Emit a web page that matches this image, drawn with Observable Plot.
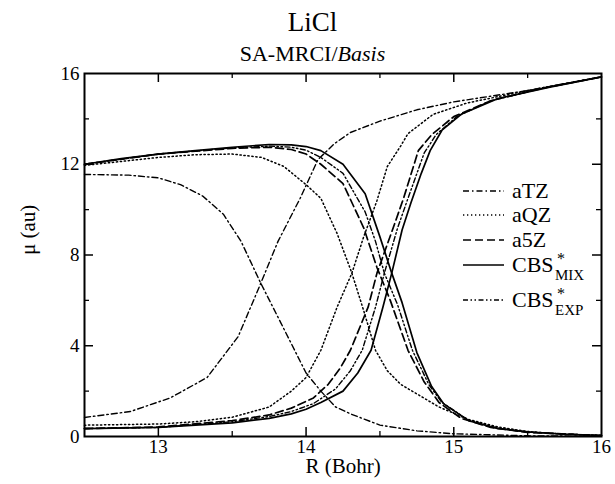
<!DOCTYPE html>
<html><head><meta charset="utf-8">
<script src="https://cdn.jsdelivr.net/npm/d3@7"></script>
<script src="https://cdn.jsdelivr.net/npm/@observablehq/plot@0.6"></script>
<style>
html,body{margin:0;padding:0;background:#fff;}
#wrap{position:relative;width:615px;height:484px;font-family:"Liberation Serif","Times New Roman",serif;color:#000;}
#wrap svg{position:absolute;left:0;top:0;}
#wrap svg text{font-family:"Liberation Serif","Times New Roman",serif !important;}
.ttl{position:absolute;left:0;width:615px;text-align:center;white-space:nowrap;font-family:"Liberation Serif","Times New Roman",serif;}
</style>
</head><body>
<div id="wrap">
  <div class="ttl" id="t1" style="top:7px;left:5px;font-size:27px;line-height:30px;">LiCl</div>
  <div class="ttl" id="t2" style="top:42px;left:5px;font-size:22px;line-height:24px;">SA-MRCI/<i>Basis</i></div>
</div>
<script>
// ---------- data (R in Bohr, mu in au) ----------
const aTZ_A_R  = [12.5, 12.8, 13.0, 13.15, 13.3, 13.44, 13.56, 13.69, 13.83, 14.0, 14.1, 14.2, 14.3, 14.5, 14.75, 15.0, 15.5, 16.0];
const aTZ_A_mu = [11.55, 11.52, 11.4, 11.1, 10.6, 9.8, 8.6, 6.8, 5.0, 2.8, 2.0, 1.3, 1.0, 0.5, 0.25, 0.12, 0.03, 0.01];
const aTZ_B_R  = [12.5, 12.81, 13.08, 13.33, 13.54, 13.69, 13.81, 13.96, 14.08, 14.19, 14.3, 14.5, 14.75, 15.0, 15.25, 15.5, 16.0];
const aTZ_B_mu = [0.84, 1.1, 1.7, 2.6, 4.4, 6.7, 8.6, 10.5, 12.2, 12.9, 13.4, 13.9, 14.4, 14.75, 15.0, 15.25, 15.85];

const aQZ_A_R  = [12.5, 13.0, 13.25, 13.5, 13.7, 13.85, 14.0, 14.1, 14.21, 14.31, 14.39, 14.47, 14.55, 14.64, 14.9, 15.1, 15.3, 15.5, 15.75, 16.0];
const aQZ_A_mu = [11.95, 12.3, 12.42, 12.45, 12.3, 11.9, 11.1, 10.5, 8.95, 7.2, 5.55, 3.8, 2.9, 2.3, 1.3, 0.75, 0.42, 0.22, 0.1, 0.04];
const aQZ_B_R  = [12.5, 13.0, 13.25, 13.5, 13.75, 13.9, 14.0, 14.1, 14.21, 14.31, 14.39, 14.48, 14.55, 14.64, 14.69, 14.86, 15.09, 15.5, 16.0];
const aQZ_B_mu = [0.5, 0.55, 0.65, 0.85, 1.3, 2.0, 2.6, 3.8, 5.7, 7.2, 8.8, 10.4, 11.9, 12.8, 13.35, 14.2, 14.7, 15.25, 15.85];

const a5Z_A_R  = [12.5, 13.0, 13.5, 13.75, 13.9, 14.0, 14.1, 14.25, 14.39, 14.48, 14.57, 14.69, 14.8, 14.9, 15.05, 15.25, 15.5, 16.0];
const a5Z_A_mu = [12.0, 12.45, 12.7, 12.75, 12.65, 12.45, 12.0, 11.15, 9.2, 7.45, 6.0, 3.8, 2.4, 1.5, 0.8, 0.4, 0.18, 0.04];
const a5Z_B_R  = [12.5, 13.0, 13.5, 13.75, 13.9, 14.05, 14.15, 14.23, 14.3, 14.42, 14.48, 14.59, 14.66, 14.76, 14.85, 15.0, 15.25, 15.6, 16.0];
const a5Z_B_mu = [0.35, 0.42, 0.7, 0.95, 1.25, 1.7, 2.3, 3.0, 3.8, 5.7, 7.2, 9.2, 10.5, 12.6, 13.3, 14.1, 14.8, 15.35, 15.85];

const mix_A_R  = [12.5, 12.75, 13.0, 13.25, 13.5, 13.75, 13.9, 14.0, 14.1, 14.25, 14.4, 14.5, 14.58, 14.65, 14.75, 14.85, 14.93, 15.1, 15.3, 15.5, 15.75, 16.0];
const mix_A_mu = [12.0, 12.25, 12.45, 12.6, 12.75, 12.87, 12.85, 12.78, 12.6, 12.0, 10.7, 8.8, 7.2, 5.9, 3.7, 2.2, 1.45, 0.7, 0.35, 0.2, 0.1, 0.05];
const mix_B_R  = [12.5, 13.0, 13.5, 13.75, 13.9, 14.0, 14.1, 14.25, 14.35, 14.44, 14.52, 14.58, 14.65, 14.71, 14.78, 14.84, 14.92, 15.05, 15.3, 15.65, 16.0];
const mix_B_mu = [0.35, 0.4, 0.6, 0.8, 1.0, 1.2, 1.5, 2.0, 2.8, 3.8, 5.7, 7.2, 9.1, 10.3, 11.6, 12.6, 13.5, 14.2, 14.9, 15.4, 15.85];

const exp_A_R  = [12.5, 13.0, 13.5, 13.75, 13.9, 14.0, 14.1, 14.25, 14.4, 14.47, 14.53, 14.62, 14.72, 14.83, 14.92, 15.1, 15.3, 15.5, 16.0];
const exp_A_mu = [12.0, 12.45, 12.72, 12.8, 12.75, 12.62, 12.3, 11.6, 9.9, 8.6, 7.2, 5.8, 3.8, 2.3, 1.5, 0.72, 0.37, 0.19, 0.04];
const exp_B_R  = [12.5, 13.0, 13.5, 13.75, 13.9, 14.05, 14.2, 14.3, 14.38, 14.47, 14.53, 14.62, 14.69, 14.8, 14.88, 15.02, 15.25, 15.6, 16.0];
const exp_B_mu = [0.35, 0.4, 0.65, 0.88, 1.1, 1.45, 2.1, 2.9, 3.8, 5.7, 7.2, 9.2, 10.5, 12.5, 13.3, 14.1, 14.8, 15.35, 15.85];

const methods = ["aTZ", "aQZ", "a5Z", "CBS*MIX", "CBS*EXP"];
const xMajor = [13, 14, 15];
const xMinor = [13.5, 14.5, 15.5];
const xLabels = [13, 14, 15, 16];
const yMajor = [4, 8, 12];
const yMinor = [2, 6, 10, 14];
const yLabels = [0, 4, 8, 12, 16];

// ---------- styles ----------
const dash = {"aTZ": "6,3,1.5,3", "aQZ": "1.3,2.7", "a5Z": "8,4", "CBS*MIX": null, "CBS*EXP": "5,2.5,1.5,2.5,1.5,2.5"};
const sw = {"aTZ": 1.4, "aQZ": 1.5, "a5Z": 1.7, "CBS*MIX": 1.7, "CBS*EXP": 1.4};
const FONT = "'Liberation Serif', 'Times New Roman', serif";

function rows(method, branch, R, mu) { return R.map((r, i) => ({R: r, mu: mu[i], method, branch})); }
const table = [
  ...rows("aTZ", "A", aTZ_A_R, aTZ_A_mu), ...rows("aTZ", "B", aTZ_B_R, aTZ_B_mu),
  ...rows("aQZ", "A", aQZ_A_R, aQZ_A_mu), ...rows("aQZ", "B", aQZ_B_R, aQZ_B_mu),
  ...rows("a5Z", "A", a5Z_A_R, a5Z_A_mu), ...rows("a5Z", "B", a5Z_B_R, a5Z_B_mu),
  ...rows("CBS*EXP", "A", exp_A_R, exp_A_mu), ...rows("CBS*EXP", "B", exp_B_R, exp_B_mu),
  ...rows("CBS*MIX", "A", mix_A_R, mix_A_mu), ...rows("CBS*MIX", "B", mix_B_R, mix_B_mu)
];

const W = 615, H = 484, mt = 73, mb = 48, ml = 84, mr = 14;
const iH = H - mt - mb, iW = W - ml - mr;
const MAJ = 9, MIN = 5;

const lineMarks = methods.map(m => Plot.line(table.filter(d => d.method === m), {
  x: "R", y: "mu", z: "branch", stroke: "black", strokeWidth: sw[m],
  strokeDasharray: dash[m], strokeLinejoin: "round"
}));

const chart = Plot.plot({
  width: W, height: H, marginTop: mt, marginBottom: mb, marginLeft: ml, marginRight: mr,
  x: {domain: [12.5, 16]},
  y: {domain: [0, 16]},
  style: {fontFamily: FONT, fontSize: "20px", background: "transparent", color: "black"},
  marks: [
    ...lineMarks,
    // inward ticks on all four sides
    Plot.tickX(xMajor, {x: d => d, insetTop: iH - MAJ, strokeWidth: 1.5}),
    Plot.tickX(xMajor, {x: d => d, insetBottom: iH - MAJ, strokeWidth: 1.5}),
    Plot.tickX(xMinor, {x: d => d, insetTop: iH - MIN, strokeWidth: 1.3}),
    Plot.tickX(xMinor, {x: d => d, insetBottom: iH - MIN, strokeWidth: 1.3}),
    Plot.tickY(yMajor, {y: d => d, insetRight: iW - MAJ, strokeWidth: 1.5}),
    Plot.tickY(yMajor, {y: d => d, insetLeft: iW - MAJ, strokeWidth: 1.5}),
    Plot.tickY(yMinor, {y: d => d, insetRight: iW - MIN, strokeWidth: 1.3}),
    Plot.tickY(yMinor, {y: d => d, insetLeft: iW - MIN, strokeWidth: 1.3}),
    Plot.frame({stroke: "black", strokeWidth: 2}),
    Plot.axisX(xLabels, {tickSize: 0, tickPadding: 3, label: null, fontSize: 19, tickFormat: d => String(d)}),
    Plot.axisY(yLabels, {tickSize: 0, tickPadding: 5, label: null, fontSize: 19, tickFormat: d => String(d)}),
    Plot.text(["R (Bohr)"], {frameAnchor: "bottom", dy: 36, fontSize: 21}),
    Plot.text(["\u03bc (au)"], {frameAnchor: "left", dx: -56, rotate: -90, fontSize: 21})
  ]
});
document.getElementById("wrap").prepend(chart);

// ---------- legend ----------
const legRows = [
  {m: "aTZ", y: 191, main: "aTZ", sup: null, sub: null},
  {m: "aQZ", y: 215, main: "aQZ", sup: null, sub: null},
  {m: "a5Z", y: 240, main: "a5Z", sup: null, sub: null},
  {m: "CBS*MIX", y: 265, main: "CBS", sup: "*", sub: "MIX"},
  {m: "CBS*EXP", y: 300, main: "CBS", sup: "*", sub: "EXP"}
];
const leg = d3.select("#wrap").append("svg").attr("width", W).attr("height", H)
  .style("font-family", FONT).style("pointer-events", "none");
const g = leg.selectAll("g").data(legRows).join("g");
g.append("line").attr("x1", 463).attr("x2", 504).attr("y1", d => d.y).attr("y2", d => d.y)
  .attr("stroke", "black").attr("stroke-width", d => sw[d.m]).attr("stroke-dasharray", d => dash[d.m]);
g.append("text").attr("x", 512).attr("y", d => d.y + 7).attr("font-size", 22).text(d => d.main);
g.filter(d => d.sup).append("text").attr("x", 557).attr("y", d => d.y - 1).attr("font-size", 16).text(d => d.sup);
g.filter(d => d.sub).append("text").attr("x", 555).attr("y", d => d.y + 15).attr("font-size", 15).text(d => d.sub);
</script>
</body></html>
